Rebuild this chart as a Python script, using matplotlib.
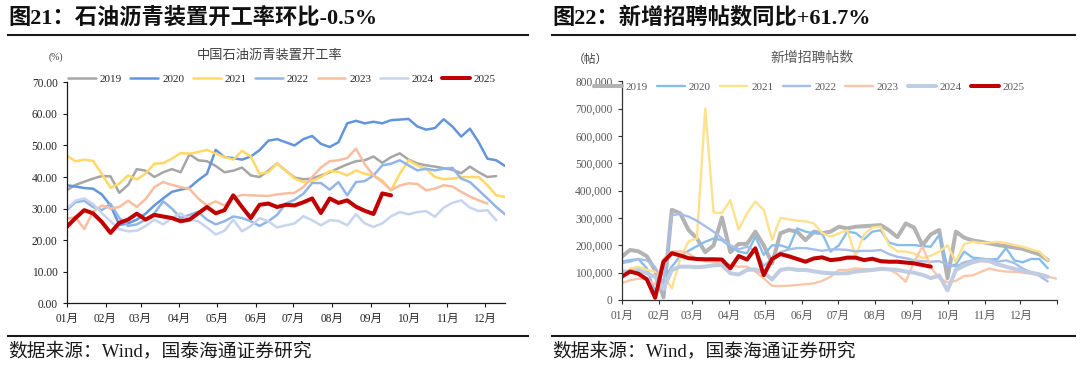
import numpy as np
import matplotlib
matplotlib.use("Agg")
import matplotlib.pyplot as plt
from matplotlib.lines import Line2D
from matplotlib.ticker import FuncFormatter, FixedLocator

plt.rcParams['font.family'] = ['Liberation Serif', 'Noto Sans CJK SC']
plt.rcParams['axes.unicode_minus'] = False

# ---------------- data ----------------
years = ['2019', '2020', '2021', '2022', '2023', '2024', '2025']
month_labels = ['01月', '02月', '03月', '04月', '05月', '06月', '07月', '08月', '09月', '10月', '11月', '12月']
month_start_day = [0, 31, 59, 90, 120, 151, 181, 212, 243, 273, 304, 334]
days_per_week = 7

# Left: 中国石油沥青装置开工率 (%), weekly from first week of January
asphalt_2019 = [35.8, 37.5, 38.5, 39.5, 40.3, 40.2, 35.0, 37.5, 42.5, 42.0, 40.0, 41.5, 42.5, 41.5, 47.2,
                45.3, 45.0, 43.5, 41.5, 42.0, 43.0, 40.5, 40.0, 42.0, 44.3, 42.0, 39.8, 39.3, 39.5, 40.5,
                41.5, 42.8, 44.0, 45.0, 45.3, 46.5, 44.5, 46.3, 47.5, 45.5, 44.3, 43.7, 43.3, 42.8, 42.3,
                41.2, 43.3, 41.5, 40.0, 40.3]
asphalt_2020 = [37.4, 37.0, 36.5, 36.3, 34.5, 31.0, 24.8, 25.3, 26.5, 28.4, 31.0, 33.2, 35.3, 36.0, 36.6,
                39.0, 41.0, 48.6, 46.3, 46.0, 45.5, 46.5, 48.5, 51.5, 52.0, 51.0, 50.0, 52.0, 53.0, 50.5,
                49.5, 51.0, 57.0, 57.8, 57.0, 57.5, 57.0, 58.0, 58.2, 58.4, 56.0, 55.0, 55.5, 58.3, 56.0,
                52.8, 55.3, 51.0, 45.8, 45.3, 43.5]
asphalt_2021 = [46.8, 45.0, 45.5, 45.1, 41.0, 36.6, 37.9, 40.5, 39.2, 41.1, 44.2, 44.4, 45.8, 47.6, 47.4,
                47.9, 48.6, 47.4, 46.3, 45.5, 48.3, 46.5, 41.0, 41.5, 44.3, 42.0, 39.5, 38.4, 38.7, 40.0,
                41.9, 41.6, 40.5, 42.1, 41.0, 40.5, 38.9, 35.8, 41.0, 45.3, 43.7, 42.6, 40.0, 39.3, 39.5,
                40.0, 40.0, 40.0, 37.4, 34.2, 33.7]
asphalt_2022 = [29.5, 32.0, 32.5, 30.5, 29.5, 31.5, 27.0, 24.5, 25.0, 26.5, 28.5, 32.3, 30.0, 27.0, 28.0,
                29.0, 26.5, 25.0, 26.0, 27.5, 27.0, 26.0, 24.5, 26.0, 28.0, 31.6, 32.8, 34.7, 38.1, 38.1,
                36.0, 38.4, 34.2, 38.4, 38.7, 40.5, 43.7, 44.2, 45.3, 43.7, 42.1, 42.6, 42.1, 42.6, 42.9,
                39.5, 38.4, 35.8, 33.2, 30.5, 28.2]
asphalt_2023 = [26.8, 27.3, 23.5, 29.0, 31.0, 30.0, 30.5, 32.5, 30.5, 33.0, 36.8, 38.4, 37.5, 36.8, 36.3,
                33.2, 31.0, 32.3, 31.0, 33.5, 34.3, 34.2, 34.1, 34.0, 34.5, 34.8, 35.0, 36.8, 40.0, 43.0,
                45.0, 45.3, 46.0, 49.0, 44.0, 40.5, 38.4, 35.8, 37.3, 38.0, 37.8, 35.8, 36.3, 37.4, 37.0,
                35.3, 33.8, 32.6, 31.6]
asphalt_2024 = [30.0, 32.5, 33.2, 31.5, 28.5, 26.0, 23.5, 22.8, 23.0, 24.5, 26.5, 25.0, 27.0, 28.5, 26.5,
                26.0, 24.0, 21.8, 23.0, 26.5, 22.8, 24.5, 27.0, 26.0, 24.0, 24.7, 25.3, 27.6, 26.3, 24.7,
                26.3, 26.1, 24.7, 28.2, 25.3, 24.2, 25.3, 27.6, 28.9, 28.2, 28.9, 29.2, 27.4, 30.3, 31.8,
                32.6, 30.3, 29.2, 29.5, 26.3]
asphalt_2025 = [24.2, 27.0, 29.5, 28.5, 25.8, 22.3, 25.5, 26.5, 28.4, 26.5, 28.0, 27.5, 27.0, 26.0, 26.5,
                28.5, 30.5, 28.5, 29.5, 34.2, 30.5, 27.0, 31.2, 31.6, 30.5, 31.2, 31.0, 32.0, 33.2, 28.6,
                33.2, 31.8, 32.6, 30.6, 29.3, 28.3, 34.8, 34.2]

# Right: 新增招聘帖数 (帖, thousands), weekly
posts_2019 = [158, 183, 178, 160, 110, 10, 330, 317, 256, 225, 175, 200, 302, 175, 205, 205, 250, 200, 134,
              244, 256, 250, 219, 250, 244, 250, 268, 262, 268, 270, 272, 274, 255, 230, 280, 265, 200, 240,
              256, 80, 250, 228, 218, 213, 207, 201, 197, 192, 187, 177, 167, 146]
posts_2020 = [140, 146, 150, 116, 30, 75, 122, 160, 180, 197, 213, 225, 219, 195, 177, 171, 232, 165, 200,
              200, 190, 262, 250, 244, 244, 177, 200, 250, 245, 222, 250, 255, 210, 201, 201, 201, 197, 195,
              238, 122, 130, 177, 155, 152, 148, 150, 190, 145, 138, 150, 150, 116]
posts_2021 = [80, 115, 122, 110, 104, 90, 43, 150, 215, 225, 700, 320, 318, 365, 258, 317, 360, 330, 220,
              300, 295, 290, 288, 280, 245, 232, 244, 255, 160, 240, 265, 268, 200, 178, 177, 170, 153, 162,
              177, 200, 140, 205, 213, 208, 210, 213, 208, 201, 195, 185, 177, 146]
posts_2022 = [135, 140, 150, 145, 120, 60, 310, 315, 305, 290, 270, 250, 225, 200, 185, 195, 180, 125, 150,
              175, 185, 190, 190, 185, 180, 185, 185, 183, 178, 180, 180, 183, 168, 158, 153, 145, 142, 140,
              142, 130, 122, 138, 145, 148, 150, 140, 145, 135, 115, 102, 88, 68]
posts_2023 = [62, 72, 78, 75, 57, 150, 177, 178, 170, 150, 142, 140, 134, 128, 122, 122, 104, 79, 52, 51,
              52, 55, 58, 61, 70, 85, 110, 110, 115, 113, 112, 110, 112, 95, 67, 140, 195, 120, 80, 65, 70,
              88, 90, 103, 115, 108, 104, 103, 100, 96, 91, 86, 78]
posts_2024 = [104, 104, 110, 98, 85, 40, 110, 122, 122, 120, 122, 127, 128, 98, 93, 110, 112, 100, 75, 110,
              115, 110, 110, 105, 100, 98, 97, 98, 104, 107, 110, 114, 112, 110, 104, 100, 92, 80, 90, 35,
              110, 126, 138, 145, 142, 130, 122, 114, 106, 100, 94, 85]
posts_2025 = [85, 104, 96, 76, 8, 140, 171, 163, 153, 150, 149, 149, 148, 116, 161, 148, 189, 91, 150, 168,
              160, 150, 140, 152, 156, 146, 149, 155, 155, 146, 151, 142, 140, 140, 137, 134, 128, 122]

asphalt = [asphalt_2019, asphalt_2020, asphalt_2021, asphalt_2022, asphalt_2023, asphalt_2024, asphalt_2025]
posts = [posts_2019, posts_2020, posts_2021, posts_2022, posts_2023, posts_2024, posts_2025]

left_title = '图21：石油沥青装置开工率环比-0.5%'
right_title = '图22：新增招聘帖数同比+61.7%'
left_sub = '中国石油沥青装置开工率'
right_sub = '新增招聘帖数'
source = '数据来源：Wind，国泰海通证券研究'

# ---------------- style ----------------
left_colors = ['#A6A6A6', '#6495DC', '#FFD966', '#93B5E6', '#F9BEA0', '#C6D4EE', '#C00000']
left_lw = [1.8, 1.8, 1.8, 1.8, 1.8, 1.8, 2.9]
right_colors = ['#B3B3B3', '#88BDEA', '#FFE08C', '#A6BFE8', '#F9C6AA', '#C0CCE2', '#C00000']
right_lw = [2.9, 1.7, 1.7, 1.7, 1.7, 2.9, 2.9]

W, H = 1080, 370
fig = plt.figure(figsize=(W / 100, H / 100), dpi=100)
fig.patch.set_facecolor('white')


def fx(px):
    return px / W


def fy(py):
    return 1 - py / H


def style_axes(ax, color, label_color):
    for s in ['top', 'right']:
        ax.spines[s].set_visible(False)
    for s in ['left', 'bottom']:
        ax.spines[s].set_color(color)
        ax.spines[s].set_linewidth(0.9)
    ax.tick_params(axis='both', direction='out', length=3, width=0.8, color=color,
                   labelsize=8.3, labelcolor=label_color, pad=3.5)


# ---------------- left chart ----------------
axL = fig.add_axes([fx(66.7), fy(303.3), fx(505 - 66.7), (303.3 - 82.3) / H])
for yr, vals, c, lw in zip(years, asphalt, left_colors, left_lw):
    x = np.arange(len(vals)) * days_per_week
    axL.plot(x, vals, color=c, lw=lw, label=yr, solid_joinstyle='round', solid_capstyle='round')
axL.set_xlim(0, 350)
axL.set_ylim(0, 70)
axL.set_yticks(np.arange(0, 71, 10))
axL.yaxis.set_major_formatter(FuncFormatter(lambda v, p: f'{v:.2f}'))
axL.set_xticks(month_start_day)
axL.set_xticklabels(month_labels)
style_axes(axL, '#1a1a1a', '#262626')
axL.tick_params(axis='x', pad=4)
legL = axL.legend(loc='center left', bbox_to_anchor=(fx(68), fy(79)), bbox_transform=fig.transFigure,
                  ncol=7, frameon=False, fontsize=8, handlelength=2.5, handletextpad=0.35,
                  columnspacing=0.78, borderpad=0, borderaxespad=0)
for t in legL.get_texts():
    t.set_color('#262626')

# ---------------- right chart ----------------
axR = fig.add_axes([fx(621.7), fy(300), fx(1057.3 - 621.7), (300 - 81.3) / H])
for yr, vals, c, lw in zip(years, posts, right_colors, right_lw):
    x = np.arange(len(vals)) * days_per_week
    axR.plot(x, np.array(vals) * 1000, color=c, lw=lw, label=yr, solid_joinstyle='round',
             solid_capstyle='round')
axR.set_xlim(0, 365)
axR.set_ylim(0, 800000)
axR.set_yticks(np.arange(0, 800001, 100000))
axR.yaxis.set_major_formatter(FuncFormatter(lambda v, p: f'{int(v):,}'))
axR.xaxis.set_major_locator(FixedLocator(month_start_day + [365]))
axR.set_xticklabels(month_labels + [''])
style_axes(axR, '#333333', '#595959')
axR.tick_params(axis='x', pad=4)
legR = axR.legend(loc='center left', bbox_to_anchor=(fx(594), fy(86.7)), bbox_transform=fig.transFigure,
                  ncol=7, frameon=False, fontsize=8, handlelength=2.5, handletextpad=0.35,
                  columnspacing=0.82, borderpad=0, borderaxespad=0)
for t in legR.get_texts():
    t.set_color('#595959')

# ---------------- figure texts ----------------
fig.text(fx(8), fy(18), left_title, fontsize=16, fontweight='bold', color='#111111', va='center', ha='left')
fig.text(fx(552), fy(18), right_title, fontsize=16, fontweight='bold', color='#111111', va='center', ha='left')
fig.add_artist(Line2D([fx(8), fx(528)], [fy(34.6), fy(34.6)], lw=1.5, color='#1a1a1a'))
fig.add_artist(Line2D([fx(552), fx(1075)], [fy(34.6), fy(34.6)], lw=1.5, color='#1a1a1a'))

fig.text(fx(270), fy(55), left_sub, fontsize=9.5, color='#404040', va='center', ha='center')
fig.text(fx(812), fy(58), right_sub, fontsize=10, color='#595959', va='center', ha='center')
fig.text(fx(56), fy(57), '(%)', fontsize=7, color='#404040', va='center', ha='center')
fig.text(fx(590), fy(60), '（帖）', fontsize=8.5, color='#404040', va='center', ha='center')

fig.add_artist(Line2D([fx(8), fx(528)], [fy(336), fy(336)], lw=1.5, color='#1a1a1a'))
fig.add_artist(Line2D([fx(552), fx(1075)], [fy(336), fy(336)], lw=1.5, color='#1a1a1a'))
fig.text(fx(8), fy(351), source, fontsize=13.5, color='#1a1a1a', va='center', ha='left')
fig.text(fx(552), fy(351), source, fontsize=13.5, color='#1a1a1a', va='center', ha='left')

fig.savefig('out.png', dpi=100, facecolor='white')
